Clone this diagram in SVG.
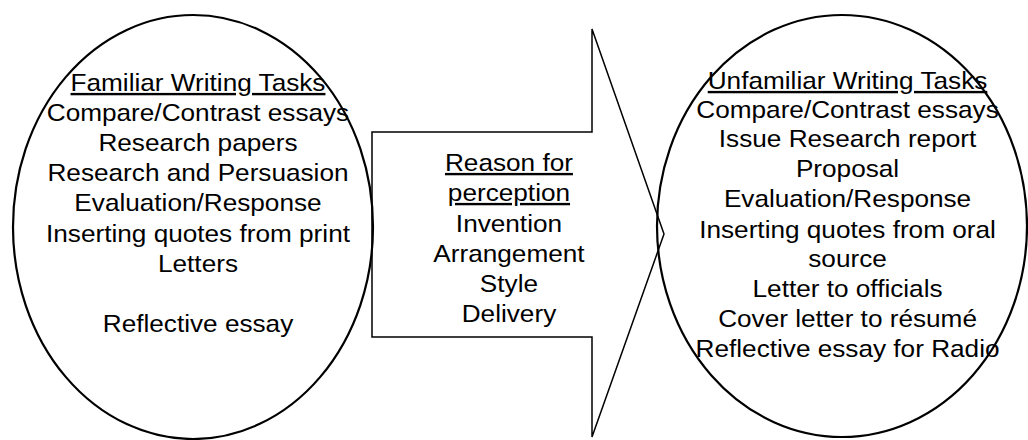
<svg xmlns="http://www.w3.org/2000/svg" width="1028" height="440" viewBox="0 0 1028 440">
<style>
  .shape { fill: none; stroke: #000; }
  .oval { stroke-width: 2.2; }
  .arrow { stroke-width: 1.5; stroke-linejoin: miter; }
  .t { font-family: "Liberation Sans", Arial, sans-serif; font-size: 23.8px; fill: #000; text-anchor: middle; }
  .u { text-decoration: underline; }
</style>
<rect x="0" y="0" width="1028" height="440" fill="#fff"/>
<g id="familiar">
  <ellipse class="shape oval" cx="193" cy="227" rx="180" ry="212"/>
  <g transform="scale(1.1,1)">
    <text class="t u" x="180" y="91">Familiar Writing Tasks</text>
    <text class="t" x="180" y="121">Compare/Contrast essays</text>
    <text class="t" x="180" y="151">Research papers</text>
    <text class="t" x="180" y="181">Research and Persuasion</text>
    <text class="t" x="180" y="211">Evaluation/Response</text>
    <text class="t" x="180" y="242">Inserting quotes from print</text>
    <text class="t" x="180" y="272">Letters</text>
    <text class="t" x="180" y="332">Reflective essay</text>
  </g>
</g>
<g id="connectors">
  <g id="reason-arrow">
    <polygon class="shape arrow" points="372,132 592,132 592,29 664,234 592,437 592,337 372,337"/>
    <g transform="scale(1.1,1)">
      <text class="t u" x="462.7" y="171">Reason for</text>
      <text class="t u" x="462.7" y="201">perception</text>
      <text class="t" x="462.7" y="232">Invention</text>
      <text class="t" x="462.7" y="262">Arrangement</text>
      <text class="t" x="462.7" y="292">Style</text>
      <text class="t" x="462.7" y="322">Delivery</text>
    </g>
  </g>
</g>
<g id="unfamiliar">
  <ellipse class="shape oval" cx="842" cy="226" rx="185" ry="211"/>
  <g transform="scale(1.1,1)">
    <text class="t u" x="770.5" y="89">Unfamiliar Writing Tasks</text>
    <text class="t" x="770.5" y="118">Compare/Contrast essays</text>
    <text class="t" x="770.5" y="147">Issue Research report</text>
    <text class="t" x="770.5" y="177">Proposal</text>
    <text class="t" x="770.5" y="207">Evaluation/Response</text>
    <text class="t" x="770.5" y="238">Inserting quotes from oral</text>
    <text class="t" x="770.5" y="267">source</text>
    <text class="t" x="770.5" y="297">Letter to officials</text>
    <text class="t" x="770.5" y="327">Cover letter to résumé</text>
    <text class="t" x="770.5" y="357">Reflective essay for Radio</text>
  </g>
</g>
</svg>
